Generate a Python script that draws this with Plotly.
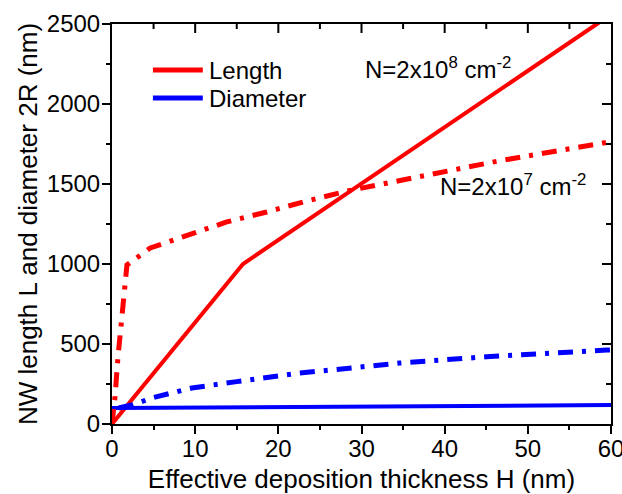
import plotly.graph_objects as go

# Nanowire length L and diameter 2R versus effective deposition thickness H
# Solid lines: N = 2x10^8 cm^-2, dash-dot lines: N = 2x10^7 cm^-2
h_len_hi = [0, 15.75, 58.3, 60]
len_hi = [0, 1000, 2500, 2560]

h_len_lo = [0, 0.36, 0.72, 1.2, 1.56, 1.8, 4.6, 9.1, 13.8, 18.6, 23.0, 28.6, 36.7, 46.6, 59.0, 60]
len_lo = [0, 170, 420, 663, 913, 994, 1100, 1181, 1263, 1325, 1388, 1460, 1545, 1645, 1756, 1762]

h_dia_hi = [0, 20, 40, 60]
dia_hi = [100, 106, 112, 118]

h_dia_lo = [0.8, 2.5, 4.8, 7.2, 9.6, 15, 22, 34.6, 45, 59.5, 60]
dia_lo = [100, 120, 163, 194, 225, 265, 315, 381, 420, 462, 463]

legend_names = ["Length", "Diameter"]
legend_colors = ["#FF0000", "#0000FF"]

# tick positions for the inward ticks on the top and right frame edges
x_major = [10, 20, 30, 40, 50]
x_minor = [5, 15, 25, 35, 45, 55]
y_major = [500, 1000, 1500, 2000]
y_minor = [250, 750, 1250, 1750, 2250]

RED = "#FF0000"
BLUE = "#0000FF"
FONT = "Liberation Sans, Arial, sans-serif"
DASHDOT = "15px,9px,4px,9px"

W, H = 622, 494
M = dict(l=112, r=11, t=24, b=70)
plot_w = W - M["l"] - M["r"]
plot_h = H - M["t"] - M["b"]

fig = go.Figure()
fig.add_trace(go.Scatter(x=h_len_hi, y=len_hi, mode="lines", name="Length",
                         line=dict(color=RED, width=4)))
fig.add_trace(go.Scatter(x=h_dia_hi, y=dia_hi, mode="lines", name="Diameter",
                         line=dict(color=BLUE, width=4)))
fig.add_trace(go.Scatter(x=h_len_lo, y=len_lo, mode="lines",
                         line=dict(color=RED, width=5, dash=DASHDOT)))
fig.add_trace(go.Scatter(x=h_dia_lo, y=dia_lo, mode="lines",
                         line=dict(color=BLUE, width=5, dash=DASHDOT)))

tickfont = dict(family=FONT, size=24, color="black")
axis_common = dict(showgrid=False, zeroline=False, showline=True, linecolor="black",
                   linewidth=2, mirror=True, ticks="outside", ticklen=8, tickwidth=2,
                   tickcolor="black", tickfont=tickfont, automargin=False,
                   ticklabeloverflow="allow")

fig.update_layout(
    width=W, height=H,
    margin=M,
    paper_bgcolor="white", plot_bgcolor="white",
    showlegend=False,
    xaxis=dict(range=[0, 60], dtick=10, tick0=0, ticklabelstandoff=-6,
               minor=dict(dtick=5, ticklen=4, tickwidth=2, ticks="outside", tickcolor="black"),
               title=dict(text="Effective deposition thickness H (nm)",
                          font=dict(family=FONT, size=26, color="black"), standoff=10),
               **axis_common),
    yaxis=dict(range=[0, 2500], dtick=500, tick0=0, ticklabelstandoff=-3,
               minor=dict(dtick=250, ticklen=4, tickwidth=2, ticks="outside", tickcolor="black"),
               title=dict(text="NW length L and diameter 2R (nm)",
                          font=dict(family=FONT, size=26, color="black"), standoff=2),
               **axis_common),
)

# inward ticks on the top edge (length given as a fraction of the plot height)
for vals, length in ((x_major, 9), (x_minor, 5)):
    for v in vals:
        fig.add_shape(type="line", xref="x", yref="paper", layer="above",
                      x0=v, x1=v, y0=1, y1=1 - length / plot_h,
                      line=dict(color="black", width=2))
# inward ticks on the right edge
for vals, length in ((y_major, 9), (y_minor, 5)):
    for v in vals:
        fig.add_shape(type="line", yref="y", xref="paper", layer="above",
                      y0=v, y1=v, x0=1, x1=1 - length / plot_w,
                      line=dict(color="black", width=2))

# legend: line samples and labels in paper coordinates
for i, (name, color) in enumerate(zip(legend_names, legend_colors)):
    yp = 0.885 - i * 0.07
    fig.add_shape(type="line", xref="paper", yref="paper", x0=0.082, x1=0.182, y0=yp, y1=yp,
                  line=dict(color=color, width=5))
    fig.add_annotation(x=0.19, y=yp, xref="paper", yref="paper", xanchor="left",
                       yanchor="middle", text=name, showarrow=False,
                       font=dict(family=FONT, size=24, color="black"))

fig.add_annotation(x=30.2, y=2225, xref="x", yref="y", xanchor="left", yanchor="middle",
                   text="N=2x10<sup>8</sup> cm<sup>-2</sup>", showarrow=False,
                   font=dict(family=FONT, size=24, color="black"))
fig.add_annotation(x=39.2, y=1494, xref="x", yref="y", xanchor="left", yanchor="middle",
                   text="N=2x10<sup>7</sup> cm<sup>-2</sup>", showarrow=False,
                   font=dict(family=FONT, size=24, color="black"))

fig.write_html("out.html")
